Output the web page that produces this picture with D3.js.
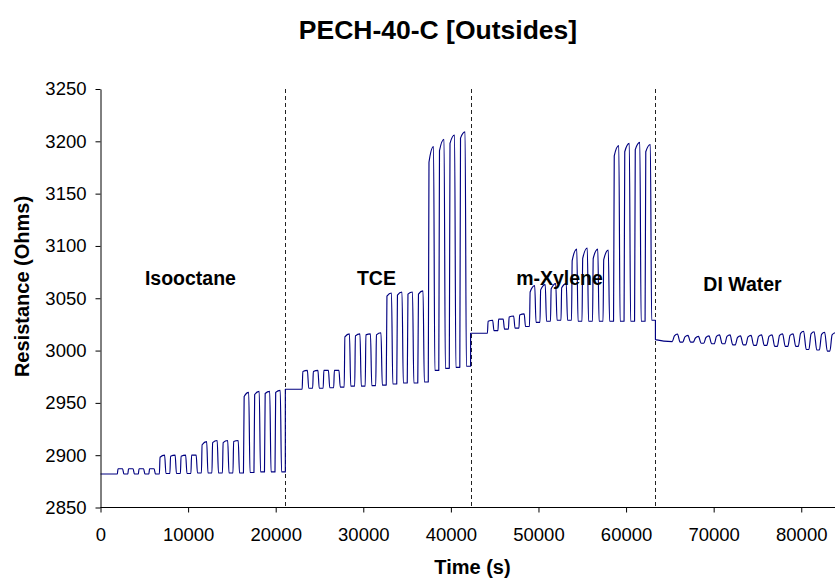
<!DOCTYPE html>
<html>
<head>
<meta charset="utf-8">
<script src="https://cdn.jsdelivr.net/npm/d3@7"></script>
<style>
  html, body { margin: 0; padding: 0; background: #fff; }
  svg { display: block; font-family: "Liberation Sans", Arial, sans-serif; }
</style>
</head>
<body>
<svg id="chart" width="835" height="578"></svg>
<script>
// ---------------- DATA ----------------
const chartTitle = "PECH-40-C [Outsides]";
const xTitle = "Time (s)";
const yTitle = "Resistance (Ohms)";

const xTicks = [0, 10000, 20000, 30000, 40000, 50000, 60000, 70000, 80000];
const yTicks = [2850, 2900, 2950, 3000, 3050, 3100, 3150, 3200, 3250];

// solvent segments: start time (s) of each exposure block
const segmentNames = ["Isooctane", "TCE", "m-Xylene", "DI Water"];
const segmentStarts = [0, 21100, 42250, 63350];
const dividerTimes = [21100, 42250, 63350];

// label anchor points (time, resistance)
const labelTimes = [10270, 31500, 52400, 73290];
const labelValues = [3069.5, 3069.5, 3069.5, 3063.5];

// pulse on-times relative to the segment start (s), and exposure length (s)
const pulseOffsets = [1920, 3120, 4320, 5520, 6720, 7920, 9120, 10320,
                      11520, 12720, 13920, 15120, 16320, 17520, 18720, 19920];
const exposureLength = 600;

// level at segment start and just before the first pulse
const segmentStartLevel = [2882, 2963, 3016.5, 3010.5];
const segmentPreLevel   = [2882, 2963, 3016.5, 3008.5];

// Isooctane
const isoPeakStart = [2887, 2887, 2887, 2887, 2898, 2899, 2899, 2900, 2910, 2912, 2912, 2913, 2956, 2958, 2959, 2960];
const isoPeakEnd   = [2887, 2887, 2887, 2887, 2900, 2900, 2900, 2900, 2913, 2914, 2914, 2914, 2960, 2961, 2961, 2962];
const isoBase      = [2882, 2882, 2882, 2882, 2882.5, 2882.5, 2882.5, 2883, 2883, 2883, 2883, 2883, 2883.5, 2884, 2884, 2884];
// TCE
const tcePeakStart = [2980, 2980, 2981, 2981, 3013, 3014, 3015, 3015, 3052, 3053, 3054, 3054, 3180, 3191, 3198, 3203];
const tcePeakEnd   = [2981, 2981, 2981, 2981, 3016, 3016, 3016, 3017, 3055, 3056, 3056, 3057, 3195, 3202, 3206, 3209];
const tceBase      = [2964, 2964, 2964.5, 2965, 2966, 2966, 2966.5, 2967, 2968, 2969, 2969, 2970, 2981, 2983, 2984, 2985];
// m-Xylene
const xylPeakStart = [3028, 3030, 3032, 3034, 3056, 3058, 3059, 3060, 3086, 3088, 3088, 3087, 3186, 3190, 3192, 3190];
const xylPeakEnd   = [3029, 3030, 3033, 3035, 3062, 3063, 3064, 3064, 3097, 3098, 3097, 3096, 3196, 3198, 3199, 3197];
const xylBase      = [3019, 3020.5, 3021.5, 3023, 3027, 3028, 3029, 3029, 3028, 3028, 3028, 3028, 3028, 3028, 3028, 3029];
// DI Water
const watPeakStart = [3014, 3013, 3012, 3012.5, 3013.5, 3013.5, 3012.5, 3013, 3013.5, 3013.5, 3014.5, 3014.5, 3016.5, 3016, 3015.5, 3015];
const watPeakEnd   = [3015.8, 3014.5, 3013.5, 3014, 3015, 3015, 3014, 3014.5, 3015, 3015, 3016, 3016, 3018.5, 3018, 3017.5, 3017];
const watBase      = [3008, 3008, 3007, 3006.5, 3006.5, 3005.5, 3005.5, 3005, 3005, 3004, 3004, 3004, 3001, 3000.5, 2999.5, 2999.5];

const peakStarts = [isoPeakStart, tcePeakStart, xylPeakStart, watPeakStart];
const peakEnds   = [isoPeakEnd, tcePeakEnd, xylPeakEnd, watPeakEnd];
const bases      = [isoBase, tceBase, xylBase, watBase];

// ---------------- DRAWING ----------------
const W = 835, H = 578;
const svg = d3.select("#chart");

const x = d3.scaleLinear().domain([0, 84000]).range([100.5, 836.3]);
const y = d3.scaleLinear().domain([2850, 3250]).range([507.5, 89]);

// rendering-only transition durations (s) per segment
const riseDur = [80, 80, 80, 250];
const fallDur = [150, 150, 150, 300];

// assemble the trace from the pulse tables
const trace = [];
segmentNames.forEach((name, s) => {
  const t0 = segmentStarts[s];
  trace.push([t0 + (s === 0 ? 0 : 1), segmentStartLevel[s]]);
  let level = segmentPreLevel[s];
  pulseOffsets.forEach((off, k) => {
    const on = t0 + off;
    const offT = on + exposureLength;
    trace.push([on, level]);
    trace.push([on + riseDur[s], peakStarts[s][k]]);
    trace.push([offT, peakEnds[s][k]]);
    trace.push([offT + fallDur[s], bases[s][k]]);
    level = bases[s][k];
  });
  const tEnd = s < segmentStarts.length - 1 ? segmentStarts[s + 1] : 84000;
  trace.push([tEnd, level]);
});

const clipId = "plotclip";
svg.append("clipPath").attr("id", clipId)
  .append("rect").attr("x", 100).attr("y", 80).attr("width", 740).attr("height", 430);

// dashed dividers
svg.append("g").selectAll("line").data(dividerTimes).join("line")
  .attr("x1", d => Math.round(x(d)) + 0.5).attr("x2", d => Math.round(x(d)) + 0.5)
  .attr("y1", y(3250)).attr("y2", y(2850))
  .attr("stroke", "#222").attr("stroke-width", 1)
  .attr("stroke-dasharray", "4,3");

// trace
const line = d3.line().x(d => x(d[0])).y(d => y(d[1])).curve(d3.curveMonotoneX);
svg.append("path").datum(trace)
  .attr("clip-path", `url(#${clipId})`)
  .attr("d", line)
  .attr("fill", "none")
  .attr("stroke", "#000080")
  .attr("stroke-width", 1.15)
  .attr("stroke-linejoin", "round");

// axes
const xAxis = d3.axisBottom(x).tickValues(xTicks).tickSize(5).tickPadding(15).tickSizeOuter(0)
  .tickFormat(d3.format("d"));
const gx = svg.append("g").attr("transform", `translate(0,${y(2850)})`).call(xAxis);
gx.select(".domain").attr("d", `M${x(0)},0H${W + 2}`);
gx.selectAll("text").attr("font-size", 18.5).attr("fill", "#000")
  .attr("font-family", "Liberation Sans, Arial, sans-serif");
gx.selectAll("line, path").attr("stroke", "#000");

const yAxis = d3.axisLeft(y).tickValues(yTicks).tickSize(5).tickPadding(9).tickSizeOuter(0)
  .tickFormat(d3.format("d"));
const gy = svg.append("g").attr("transform", `translate(${x(0)},0)`).call(yAxis);
gy.selectAll("text").attr("font-size", 18.5).attr("fill", "#000")
  .attr("font-family", "Liberation Sans, Arial, sans-serif");
gy.selectAll("line, path").attr("stroke", "#000");

// segment labels
svg.append("g").selectAll("text").data(segmentNames).join("text")
  .attr("x", (d, i) => x(labelTimes[i]))
  .attr("y", (d, i) => y(labelValues[i]))
  .attr("text-anchor", "middle").attr("dominant-baseline", "central")
  .attr("font-size", 19.5).attr("font-weight", "bold").attr("fill", "#000")
  .text(d => d);

// titles
svg.append("text").attr("x", 438).attr("y", 38.5)
  .attr("text-anchor", "middle").attr("font-size", 26.5).attr("font-weight", "bold")
  .text(chartTitle);
svg.append("text").attr("x", 472.5).attr("y", 574)
  .attr("text-anchor", "middle").attr("font-size", 20).attr("font-weight", "bold")
  .text(xTitle);
svg.append("text").attr("transform", "translate(28.5,286.5) rotate(-90)")
  .attr("text-anchor", "middle").attr("font-size", 20).attr("font-weight", "bold")
  .text(yTitle);
</script>
</body>
</html>
